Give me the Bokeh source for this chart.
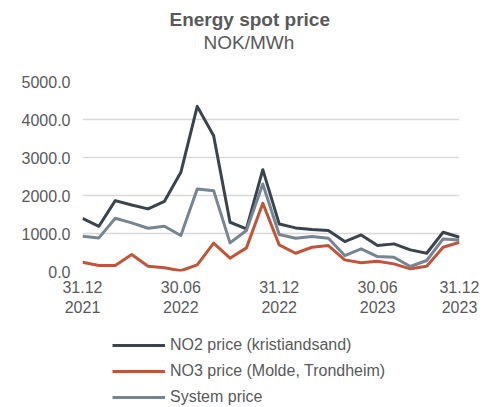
import numpy as np
from bokeh.plotting import figure
from bokeh.layouts import column
from bokeh.models import (Range1d, FixedTicker, NumeralTickFormatter, Title,
                          Legend, LegendItem)
from bokeh.embed import file_html
from bokeh.resources import INLINE

# ---- data ----
months = ["2021-12", "2022-01", "2022-02", "2022-03", "2022-04", "2022-05",
          "2022-06", "2022-07", "2022-08", "2022-09", "2022-10", "2022-11",
          "2022-12", "2023-01", "2023-02", "2023-03", "2023-04", "2023-05",
          "2023-06", "2023-07", "2023-08", "2023-09", "2023-10", "2023-11"]
no2 = [1400, 1190, 1865, 1752, 1647, 1848, 2610, 4345, 3573, 1296, 1121, 2680,
       1252, 1147, 1103, 1077, 788, 963, 683, 727, 569, 481, 1034, 902]
no3 = [245, 158, 158, 447, 140, 96, 20, 175, 745, 350, 622, 1795,
       700, 481, 639, 683, 306, 228, 271, 201, 70, 140, 639, 771]
system = [928, 884, 1400, 1279, 1139, 1191, 946, 2172, 2128, 753, 1077, 2303,
          972, 876, 920, 876, 420, 595, 394, 376, 131, 289, 858, 832]
series_names = ["NO2 price (kristiandsand)", "NO3 price (Molde, Trondheim)", "System price"]
x_tick_pos = [0, 6, 12, 18, 23]
x_tick_labels = ["31.12\n2021", "30.06\n2022", "31.12\n2022", "30.06\n2023", "31.12\n2023"]
y_ticks = [0, 1000, 2000, 3000, 4000, 5000]

x = np.arange(len(months))
series = [no2, no3, system]

FONT = "Liberation Sans"
TXT = "#595959"
colors = ["#3b444d", "#c0553a", "#758592"]

p = figure(width=497, height=322, output_backend="svg", toolbar_location=None,
           x_range=Range1d(0, len(months) - 1), y_range=Range1d(0, 5000),
           min_border_left=82, min_border_right=38, min_border_top=81,
           min_border_bottom=51, title=None)
p.outline_line_color = None
p.background_fill_color = "white"
p.border_fill_color = "white"

# titles (first added sits closest to the plot area)
p.add_layout(Title(text=" ", text_font=FONT, text_font_size="2px", standoff=25), "above")
p.add_layout(Title(text="NOK/MWh", align="left", text_font=FONT,
                   text_font_size="19px", text_color=TXT, text_font_style="normal",
                   offset=121, standoff=0), "above")
p.add_layout(Title(text="Energy spot price", align="left", text_font=FONT,
                   text_font_size="19px", text_color=TXT, text_font_style="bold",
                   offset=87, standoff=0), "above")

# axes
p.xaxis.ticker = FixedTicker(ticks=x_tick_pos)
p.xaxis.major_label_overrides = {float(k): v for k, v in zip(x_tick_pos, x_tick_labels)}
p.xaxis.major_label_text_font = FONT
p.xaxis.major_label_text_font_size = "16px"
p.xaxis.major_label_text_color = TXT
p.xaxis.major_label_standoff = 7
p.xaxis.major_tick_out = 0
p.xaxis.major_tick_in = 0
p.xaxis.axis_line_color = None
p.xaxis.major_tick_line_color = None
p.xaxis.minor_tick_line_color = None

p.yaxis.ticker = FixedTicker(ticks=y_ticks)
p.yaxis.formatter = NumeralTickFormatter(format="0.0")
p.yaxis.major_label_text_font = FONT
p.yaxis.major_label_text_font_size = "16px"
p.yaxis.major_label_text_color = TXT
p.yaxis.major_label_standoff = 12
p.yaxis.major_tick_out = 0
p.yaxis.major_tick_in = 0
p.yaxis.axis_line_color = None
p.yaxis.major_tick_line_color = None
p.yaxis.minor_tick_line_color = None

p.xgrid.grid_line_color = None
p.ygrid.ticker = FixedTicker(ticks=y_ticks)
p.ygrid.grid_line_color = "#d9d9d9"
p.ygrid.grid_line_width = 1.5

for vals, c in zip(series, colors):
    p.line(x, vals, line_color=c, line_width=3, line_join="round")

# legend panel below the chart (its plot area is aligned with the chart's)
p2 = figure(width=497, height=85, output_backend="svg", toolbar_location=None,
            x_axis_location=None, y_axis_location=None, min_border=0,
            x_range=Range1d(0, 1), y_range=Range1d(0, 1))
p2.outline_line_color = None
p2.grid.visible = False
# single-point lines: they draw nothing themselves, only provide legend swatches
leg_renderers = [p2.line(x=[0], y=[vals[0]], line_color=c, line_width=3)
                 for vals, c in zip(series, colors)]
legend = Legend(items=[LegendItem(label=n, renderers=[r]) for n, r in zip(series_names, leg_renderers)],
                location=(30, 0), orientation="vertical",
                label_text_font=FONT, label_text_font_size="16px", label_text_color=TXT,
                glyph_width=53, glyph_height=20, label_height=20, label_standoff=5,
                spacing=6, padding=0, margin=0,
                background_fill_alpha=0, border_line_color=None)
p2.add_layout(legend, "center")

open("out.html", "w").write(file_html(column(p, p2), INLINE))
